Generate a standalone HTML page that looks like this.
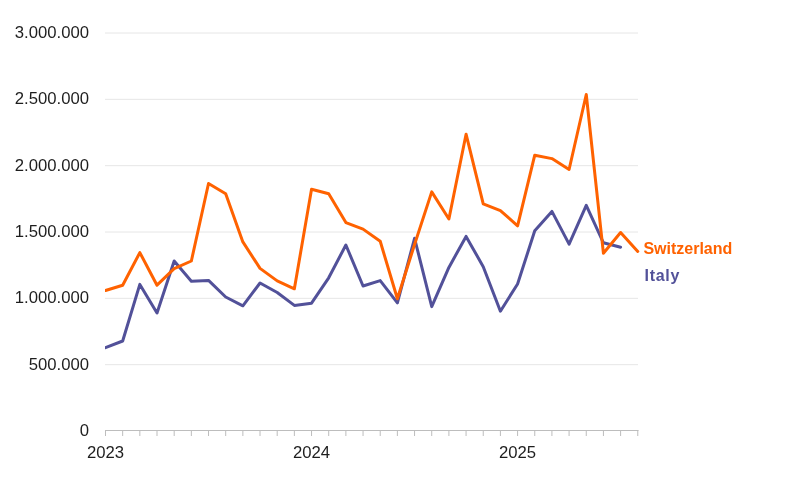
<!DOCTYPE html>
<html><head><meta charset="utf-8"><style>
html,body{margin:0;padding:0;background:#fff;width:800px;height:494px;overflow:hidden}
svg{display:block}
svg{will-change:transform}
.ax{font-family:"Liberation Sans",sans-serif;font-size:16.7px;fill:#1e1e1e}
.lg{font-family:"Liberation Sans",sans-serif;font-size:16px;font-weight:bold}
</style></head><body>
<svg width="800" height="494" viewBox="0 0 800 494">
<defs><clipPath id="c"><rect x="105" y="0" width="695" height="494"/></clipPath></defs>
<line x1="105" x2="638" y1="33.0" y2="33.0" stroke="#e6e6e6" stroke-width="1"/>
<line x1="105" x2="638" y1="99.33" y2="99.33" stroke="#e6e6e6" stroke-width="1"/>
<line x1="105" x2="638" y1="165.67" y2="165.67" stroke="#e6e6e6" stroke-width="1"/>
<line x1="105" x2="638" y1="232.0" y2="232.0" stroke="#e6e6e6" stroke-width="1"/>
<line x1="105" x2="638" y1="298.33" y2="298.33" stroke="#e6e6e6" stroke-width="1"/>
<line x1="105" x2="638" y1="364.67" y2="364.67" stroke="#e6e6e6" stroke-width="1"/>
<line x1="105" x2="638.5" y1="430.5" y2="430.5" stroke="#bdbdbd" stroke-width="1"/>
<line x1="105.50" x2="105.50" y1="430" y2="436" stroke="#bdbdbd" stroke-width="1"/>
<line x1="122.67" x2="122.67" y1="430" y2="436" stroke="#bdbdbd" stroke-width="1"/>
<line x1="139.84" x2="139.84" y1="430" y2="436" stroke="#bdbdbd" stroke-width="1"/>
<line x1="157.01" x2="157.01" y1="430" y2="436" stroke="#bdbdbd" stroke-width="1"/>
<line x1="174.18" x2="174.18" y1="430" y2="436" stroke="#bdbdbd" stroke-width="1"/>
<line x1="191.35" x2="191.35" y1="430" y2="436" stroke="#bdbdbd" stroke-width="1"/>
<line x1="208.52" x2="208.52" y1="430" y2="436" stroke="#bdbdbd" stroke-width="1"/>
<line x1="225.69" x2="225.69" y1="430" y2="436" stroke="#bdbdbd" stroke-width="1"/>
<line x1="242.86" x2="242.86" y1="430" y2="436" stroke="#bdbdbd" stroke-width="1"/>
<line x1="260.03" x2="260.03" y1="430" y2="436" stroke="#bdbdbd" stroke-width="1"/>
<line x1="277.20" x2="277.20" y1="430" y2="436" stroke="#bdbdbd" stroke-width="1"/>
<line x1="294.37" x2="294.37" y1="430" y2="436" stroke="#bdbdbd" stroke-width="1"/>
<line x1="311.54" x2="311.54" y1="430" y2="436" stroke="#bdbdbd" stroke-width="1"/>
<line x1="328.71" x2="328.71" y1="430" y2="436" stroke="#bdbdbd" stroke-width="1"/>
<line x1="345.88" x2="345.88" y1="430" y2="436" stroke="#bdbdbd" stroke-width="1"/>
<line x1="363.05" x2="363.05" y1="430" y2="436" stroke="#bdbdbd" stroke-width="1"/>
<line x1="380.22" x2="380.22" y1="430" y2="436" stroke="#bdbdbd" stroke-width="1"/>
<line x1="397.39" x2="397.39" y1="430" y2="436" stroke="#bdbdbd" stroke-width="1"/>
<line x1="414.56" x2="414.56" y1="430" y2="436" stroke="#bdbdbd" stroke-width="1"/>
<line x1="431.73" x2="431.73" y1="430" y2="436" stroke="#bdbdbd" stroke-width="1"/>
<line x1="448.90" x2="448.90" y1="430" y2="436" stroke="#bdbdbd" stroke-width="1"/>
<line x1="466.07" x2="466.07" y1="430" y2="436" stroke="#bdbdbd" stroke-width="1"/>
<line x1="483.24" x2="483.24" y1="430" y2="436" stroke="#bdbdbd" stroke-width="1"/>
<line x1="500.41" x2="500.41" y1="430" y2="436" stroke="#bdbdbd" stroke-width="1"/>
<line x1="517.58" x2="517.58" y1="430" y2="436" stroke="#bdbdbd" stroke-width="1"/>
<line x1="534.75" x2="534.75" y1="430" y2="436" stroke="#bdbdbd" stroke-width="1"/>
<line x1="551.92" x2="551.92" y1="430" y2="436" stroke="#bdbdbd" stroke-width="1"/>
<line x1="569.09" x2="569.09" y1="430" y2="436" stroke="#bdbdbd" stroke-width="1"/>
<line x1="586.26" x2="586.26" y1="430" y2="436" stroke="#bdbdbd" stroke-width="1"/>
<line x1="603.43" x2="603.43" y1="430" y2="436" stroke="#bdbdbd" stroke-width="1"/>
<line x1="620.60" x2="620.60" y1="430" y2="436" stroke="#bdbdbd" stroke-width="1"/>
<line x1="637.77" x2="637.77" y1="430" y2="436" stroke="#bdbdbd" stroke-width="1"/>
<text x="89" y="37.8" text-anchor="end" class="ax">3.000.000</text>
<text x="89" y="104.1" text-anchor="end" class="ax">2.500.000</text>
<text x="89" y="170.5" text-anchor="end" class="ax">2.000.000</text>
<text x="89" y="236.8" text-anchor="end" class="ax">1.500.000</text>
<text x="89" y="303.1" text-anchor="end" class="ax">1.000.000</text>
<text x="89" y="369.5" text-anchor="end" class="ax">500.000</text>
<text x="89" y="435.8" text-anchor="end" class="ax">0</text>
<text x="105.50" y="457.8" text-anchor="middle" class="ax">2023</text>
<text x="311.54" y="457.8" text-anchor="middle" class="ax">2024</text>
<text x="517.58" y="457.8" text-anchor="middle" class="ax">2025</text>
<polyline points="105.50,347.70 122.67,341.00 139.84,284.40 157.01,313.00 174.18,261.00 191.35,281.20 208.52,280.40 225.69,297.00 242.86,305.80 260.03,283.00 277.20,292.50 294.37,305.40 311.54,303.20 328.71,277.80 345.88,245.00 363.05,286.00 380.22,280.60 397.39,302.90 414.56,238.30 431.73,306.60 448.90,267.40 466.07,236.40 483.24,266.70 500.41,311.20 517.58,284.00 534.75,230.80 551.92,211.40 569.09,244.10 586.26,205.40 603.43,242.80 620.60,247.20" fill="none" stroke="#525199" stroke-width="3" stroke-linejoin="round" stroke-linecap="round" clip-path="url(#c)"/>
<polyline points="105.50,290.50 122.67,285.20 139.84,252.60 157.01,285.20 174.18,268.60 191.35,261.00 208.52,183.50 225.69,193.70 242.86,241.90 260.03,268.40 277.20,280.90 294.37,288.80 311.54,189.20 328.71,193.70 345.88,222.60 363.05,229.10 380.22,241.30 397.39,298.80 414.56,244.50 431.73,191.90 448.90,219.00 466.07,134.20 483.24,203.80 500.41,210.60 517.58,225.80 534.75,155.20 551.92,158.60 569.09,169.50 586.26,94.50 603.43,253.30 620.60,232.50 637.77,251.40" fill="none" stroke="#ff6200" stroke-width="3" stroke-linejoin="round" stroke-linecap="round" clip-path="url(#c)"/>
<text x="643.4" y="254" class="lg" fill="#ff6200">Switzerland</text>
<text x="644.6" y="280.5" class="lg" fill="#525199" letter-spacing="0.7">Italy</text>
</svg>
</body></html>
